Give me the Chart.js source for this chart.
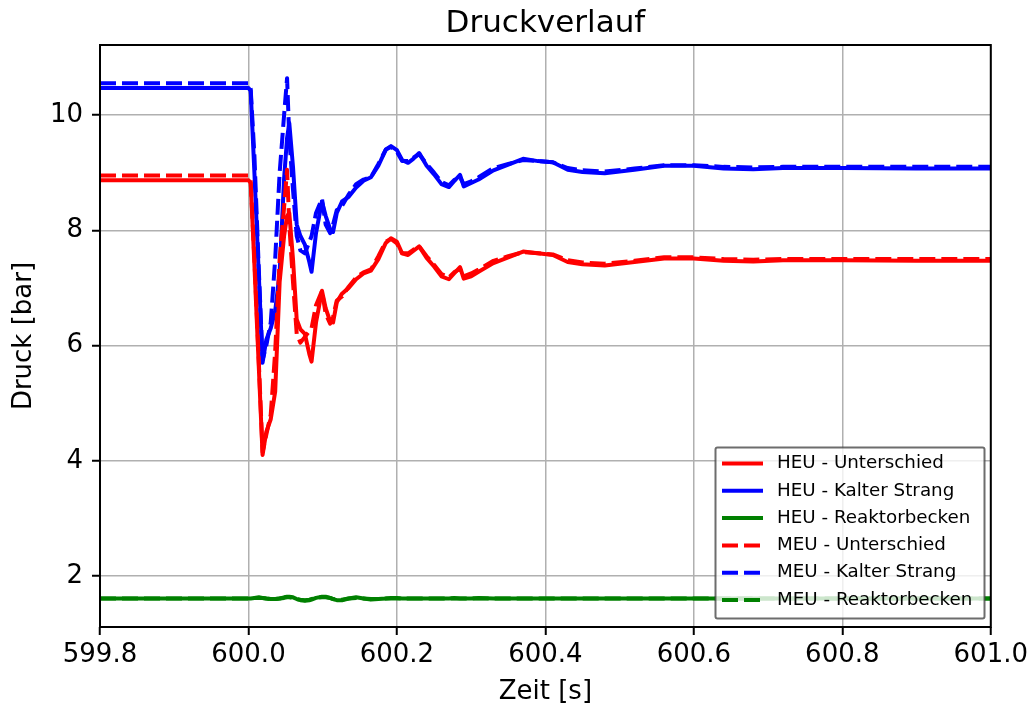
<!DOCTYPE html>
<html>
<head>
<meta charset="utf-8">
<title>Druckverlauf</title>
<script src="https://cdn.jsdelivr.net/npm/chart.js@4.4.1/dist/chart.umd.min.js"></script>
<style>
  body { margin: 0; background: #fff; }
  #druck { display: block; }
</style>
</head>
<body>
<canvas id="druck" width="1033" height="707"></canvas>
<script>
// Zeitachse [s] und Druckwerte [bar]
var zeit = [599.8, 600.0, 600.003, 600.008, 600.014, 600.019, 600.024, 600.03, 600.036, 600.042,
    600.048, 600.052, 600.055, 600.06, 600.065, 600.07, 600.076, 600.082, 600.085, 600.091,
    600.099, 600.104, 600.11, 600.114, 600.119, 600.126, 600.135, 600.145, 600.155, 600.165,
    600.175, 600.185, 600.192, 600.2, 600.207, 600.215, 600.222, 600.23, 600.24, 600.25,
    600.26, 600.27, 600.277, 600.285, 600.29, 600.3, 600.31, 600.33, 600.35, 600.37,
    600.39, 600.41, 600.43, 600.45, 600.48, 600.52, 600.56, 600.6, 600.64, 600.68,
    600.72, 600.8, 600.9, 601.0];

var heu_unterschied = [8.87, 8.87, 8.82, 7.4, 5.6, 4.1, 4.5, 4.72, 5.2, 7.1,
    7.9, 8.25, 8.3, 7.5, 6.45, 6.28, 6.2, 5.85, 5.72, 6.4,
    6.95, 6.65, 6.42, 6.4, 6.75, 6.9, 7.0, 7.15, 7.25, 7.3,
    7.5, 7.78, 7.86, 7.8, 7.6, 7.57, 7.64, 7.72, 7.52, 7.37,
    7.2, 7.15, 7.25, 7.36, 7.16, 7.2, 7.28, 7.43, 7.53, 7.63,
    7.6, 7.57, 7.45, 7.41, 7.39, 7.45, 7.51, 7.51, 7.47, 7.46,
    7.48, 7.48, 7.47, 7.47];

var heu_kalter_strang = [10.47, 10.47, 10.42, 9.0, 7.2, 5.7, 6.1, 6.3, 6.6, 7.26,
    8.9, 9.6, 9.86, 9.1, 8.1, 7.9, 7.75, 7.45, 7.28, 7.95,
    8.5, 8.25, 8.02, 7.97, 8.3, 8.5, 8.58, 8.74, 8.86, 8.92,
    9.12, 9.4, 9.46, 9.39, 9.22, 9.17, 9.24, 9.34, 9.12, 8.97,
    8.8, 8.75, 8.85, 8.96, 8.76, 8.82, 8.88, 9.04, 9.14, 9.24,
    9.2, 9.18, 9.05, 9.01, 8.99, 9.05, 9.12, 9.12, 9.07, 9.06,
    9.08, 9.08, 9.07, 9.07];

var heu_reaktorbecken = [1.61, 1.61, 1.61, 1.62, 1.63, 1.62, 1.61, 1.60, 1.60, 1.61,
    1.63, 1.64, 1.64, 1.63, 1.60, 1.58, 1.57, 1.58, 1.59, 1.62,
    1.64, 1.64, 1.62, 1.60, 1.58, 1.58, 1.61, 1.63, 1.61, 1.59,
    1.60, 1.61, 1.62, 1.62, 1.61, 1.61, 1.61, 1.61, 1.61, 1.61,
    1.61, 1.61, 1.62, 1.61, 1.61, 1.61, 1.62, 1.61, 1.61, 1.61,
    1.61, 1.61, 1.61, 1.61, 1.61, 1.61, 1.61, 1.61, 1.61, 1.61,
    1.61, 1.61, 1.61, 1.61];

var meu_unterschied = [8.95, 8.95, 8.85, 7.5, 5.7, 4.15, 4.45, 4.8, 5.9, 7.5,
    8.4, 9.05, 8.1, 7.1, 6.2, 6.05, 6.15, 6.25, 6.3, 6.7,
    6.95, 6.55, 6.38, 6.5, 6.78, 6.85, 7.02, 7.18, 7.27, 7.32,
    7.55, 7.8, 7.85, 7.77, 7.6, 7.6, 7.66, 7.72, 7.55, 7.4,
    7.24, 7.18, 7.27, 7.33, 7.2, 7.25, 7.32, 7.47, 7.55, 7.62,
    7.6, 7.58, 7.48, 7.44, 7.42, 7.47, 7.53, 7.53, 7.5, 7.49,
    7.5, 7.5, 7.5, 7.5];

var meu_kalter_strang = [10.55, 10.55, 10.45, 9.3, 7.3, 5.75, 6.0, 6.4, 7.5, 9.0,
    10.0, 10.64, 9.6, 8.7, 7.9, 7.65, 7.6, 7.8, 7.9, 8.3,
    8.55, 8.1, 7.95, 8.1, 8.35, 8.42, 8.62, 8.8, 8.88, 8.92,
    9.15, 9.4, 9.45, 9.36, 9.2, 9.2, 9.26, 9.32, 9.15, 9.0,
    8.84, 8.78, 8.87, 8.92, 8.8, 8.85, 8.92, 9.08, 9.15, 9.22,
    9.2, 9.18, 9.08, 9.04, 9.02, 9.07, 9.13, 9.13, 9.1, 9.09,
    9.1, 9.1, 9.1, 9.1];

var meu_reaktorbecken = [1.61, 1.61, 1.61, 1.62, 1.62, 1.62, 1.61, 1.60, 1.60, 1.61,
    1.62, 1.63, 1.63, 1.62, 1.60, 1.59, 1.58, 1.59, 1.60, 1.62,
    1.63, 1.63, 1.62, 1.60, 1.59, 1.59, 1.61, 1.62, 1.61, 1.60,
    1.60, 1.61, 1.61, 1.61, 1.61, 1.61, 1.61, 1.61, 1.61, 1.61,
    1.61, 1.61, 1.61, 1.61, 1.61, 1.61, 1.61, 1.61, 1.61, 1.61,
    1.61, 1.61, 1.61, 1.61, 1.61, 1.61, 1.61, 1.61, 1.61, 1.61,
    1.61, 1.61, 1.61, 1.61];

var zeit_ticks = [599.8, 600.0, 600.2, 600.4, 600.6, 600.8, 601.0];
var druck_ticks = [2, 4, 6, 8, 10];

var schrift = "'DejaVu Sans', sans-serif";
var linien_breite = 4;

function punkte(werte) {
    return zeit.map((t, i) => ({ x: t, y: werte[i] }));
}

function kurve(label, werte, farbe, gestrichelt) {
    return {
        label: label,
        data: punkte(werte),
        borderColor: farbe,
        backgroundColor: farbe,
        borderWidth: linien_breite,
        borderDash: gestrichelt ? [16, 6] : [],
        borderCapStyle: gestrichelt ? 'butt' : 'square',
        borderJoinStyle: 'round',
        pointRadius: 0,
        tension: 0,
        fill: false,
        order: gestrichelt ? 0 : 1,
    };
}

// Rahmen, Titel und Legende wie bei matplotlib
var rahmen_plugin = {
    id: 'rahmen',
    afterDraw(chart) {
        var ctx = chart.ctx;
        var a = chart.chartArea;
        ctx.save();
        ctx.strokeStyle = '#000';
        ctx.lineWidth = 2;
        ctx.strokeRect(a.left, a.top, a.right - a.left, a.bottom - a.top);

        ctx.fillStyle = '#000';
        ctx.font = '31px ' + schrift;
        ctx.textAlign = 'center';
        ctx.textBaseline = 'alphabetic';
        ctx.fillText('Druckverlauf', (a.left + a.right) / 2, 32);

        // Legende
        var lx = 715.5, ly = 447.5, lw = 269, lh = 171;
        ctx.fillStyle = 'rgba(255,255,255,0.8)';
        ctx.strokeStyle = 'rgba(60,60,60,0.75)';
        ctx.lineWidth = 2;
        ctx.beginPath();
        ctx.roundRect(lx, ly, lw, lh, 2);
        ctx.fill();
        ctx.stroke();

        ctx.font = '18.3px ' + schrift;
        ctx.textAlign = 'left';
        ctx.textBaseline = 'middle';
        chart.data.datasets.forEach((ds, i) => {
            var y = 463.5 + i * 27.3;
            ctx.strokeStyle = ds.borderColor;
            ctx.lineWidth = linien_breite;
            ctx.lineCap = 'butt';
            ctx.setLineDash(ds.borderDash);
            ctx.beginPath();
            ctx.moveTo(722, y);
            ctx.lineTo(763, y);
            ctx.stroke();
            ctx.setLineDash([]);
            ctx.fillStyle = '#000';
            ctx.fillText(ds.label, 777, y);
        });
        ctx.restore();
    }
};

var ctx_druck = document.getElementById('druck').getContext('2d');

var chart_druck = new Chart(ctx_druck, {
    type: 'line',
    data: {
        datasets: [
            kurve('HEU - Unterschied', heu_unterschied, '#ff0000', false),
            kurve('HEU - Kalter Strang', heu_kalter_strang, '#0000ff', false),
            kurve('HEU - Reaktorbecken', heu_reaktorbecken, '#008000', false),
            kurve('MEU - Unterschied', meu_unterschied, '#ff0000', true),
            kurve('MEU - Kalter Strang', meu_kalter_strang, '#0000ff', true),
            kurve('MEU - Reaktorbecken', meu_reaktorbecken, '#008000', true),
        ]
    },
    options: {
        responsive: false,
        devicePixelRatio: 1,
        animation: false,
        layout: { padding: { top: 45, right: 41, bottom: 0, left: 0 } },
        plugins: {
            legend: { display: false },
            title: { display: false },
            tooltip: { enabled: false },
        },
        scales: {
            x: {
                type: 'linear',
                min: 599.8,
                max: 601.0,
                afterBuildTicks: s => { s.ticks = zeit_ticks.map(v => ({ value: v })); },
                afterFit: s => { s.height = 80; },
                border: { display: false },
                grid: { color: '#b0b0b0', lineWidth: 1.5, tickColor: '#000', tickWidth: 2, tickLength: 8 },
                ticks: {
                    callback: v => v.toFixed(1),
                    font: { family: schrift, size: 26 },
                    color: '#000',
                    padding: 5,
                    maxRotation: 0,
                    autoSkip: false,
                },
                title: {
                    display: true,
                    text: 'Zeit [s]',
                    color: '#000',
                    font: { family: schrift, size: 26, lineHeight: 1.1 },
                    padding: { top: 0, bottom: 0 },
                },
            },
            y: {
                type: 'linear',
                min: 1.115,
                max: 11.215,
                afterBuildTicks: s => { s.ticks = druck_ticks.map(v => ({ value: v })); },
                afterFit: s => { s.width = 100; },
                border: { display: false },
                grid: { color: '#b0b0b0', lineWidth: 1.5, tickColor: '#000', tickWidth: 2, tickLength: 8 },
                ticks: {
                    callback: v => String(v),
                    font: { family: schrift, size: 26 },
                    color: '#000',
                    padding: 9,
                },
                title: {
                    display: true,
                    text: 'Druck [bar]',
                    color: '#000',
                    font: { family: schrift, size: 26, lineHeight: 1.1 },
                    padding: { top: 10, bottom: 0 },
                },
            },
        },
    },
    plugins: [rahmen_plugin],
});
</script>
</body>
</html>
